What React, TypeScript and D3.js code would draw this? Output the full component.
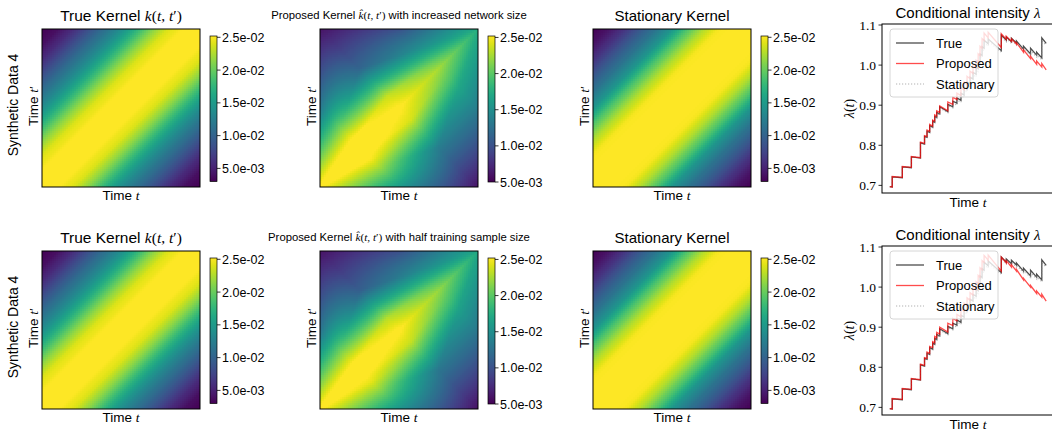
import React, { useEffect, useRef } from 'react';
import * as d3 from 'd3';

const SANS = '"Liberation Sans", Arial, sans-serif';
const SERIF = '"Liberation Serif", "DejaVu Serif", serif';

// kernel value against lag |t - t'|
const lagNodes = [0, 0.1, 0.2, 0.3, 0.4, 0.5, 0.6, 0.7, 0.8, 0.9, 1.0];
const trueKernel = [0.0252, 0.0252, 0.024, 0.021, 0.0172, 0.0138, 0.0111, 0.0085, 0.0058, 0.0038, 0.003];
const stationaryKernel = [0.0252, 0.0252, 0.025, 0.0225, 0.019, 0.0145, 0.0115, 0.009, 0.0063, 0.0041, 0.003];

// proposed kernel (x1e-3) on a grid of midpoint m=(t+t')/2 and side s=(t-t')/max
const midNodes = [0, 0.25, 0.5, 0.75, 1];
const sideNodes = [-1, -0.5, -0.3, -0.15, 0, 0.15, 0.3, 0.5, 1];
const proposedNet = [
  [25.5, 25.5, 25.5, 25.5, 25.5, 25.5, 25.5, 25.5, 25.5],
  [13, 21, 24, 26, 26.5, 26, 25, 22.5, 16],
  [6, 11.5, 18, 23.5, 25.5, 24, 19.5, 13.5, 6],
  [10, 15, 18, 20.5, 22.5, 21, 19.5, 17, 13.5],
  [17.5, 17.5, 17.5, 17.5, 17.5, 17.5, 17.5, 17.5, 17.5],
];
const proposedHalf = [
  [25.5, 25.5, 25.5, 25.5, 25.5, 25.5, 25.5, 25.5, 25.5],
  [12.5, 20.5, 23.5, 25.5, 26.5, 25.5, 24.5, 22, 15.5],
  [6, 11, 17.5, 23, 25.5, 23.5, 19, 13, 5.8],
  [9.8, 14.5, 17.5, 20, 22, 20.5, 19, 16.5, 13],
  [17, 17, 17, 17, 17, 17, 17, 17, 17],
];

const cbarTicks = [0.005, 0.01, 0.015, 0.02, 0.025];
const cbarTickLabels = ['5.0e-03', '1.0e-02', '1.5e-02', '2.0e-02', '2.5e-02'];
const wideRange: [number, number] = [0.003, 0.0252];
const proposedRange: [number, number] = [0.005, 0.0252];
const proposedSuffix = [' with increased network size', ' with half training sample size'];

// conditional intensity: each segment decays from start to end between bounds
const segBounds = [0, 0.155, 0.8, 1.38, 1.96, 2.22, 2.38, 2.55, 2.74, 2.87, 3.0, 3.19, 3.71, 4.03, 4.29, 4.55, 4.75, 4.94, 5.13, 5.32, 5.52, 5.65, 5.77, 5.9, 6.03, 6.29, 7.13, 7.45, 7.78, 8.1, 8.55, 9.0, 9.39, 9.72, 10];
const trueStart = [0.697, 0.721, 0.746, 0.771, 0.806, 0.822, 0.835, 0.849, 0.86, 0.872, 0.882, 0.896, 0.902, 0.91, 0.918, 0.93, 0.945, 0.958, 0.97, 0.982, 0.995, 1.01, 1.028, 1.046, 1.062, 1.065, 1.075, 1.07, 1.067, 1.06, 1.047, 1.042, 1.032, 1.068];
const trueEnd = [0.696, 0.719, 0.744, 0.768, 0.803, 0.82, 0.832, 0.845, 0.857, 0.869, 0.878, 0.884, 0.896, 0.905, 0.912, 0.925, 0.94, 0.953, 0.965, 0.977, 0.991, 1.006, 1.024, 1.042, 1.053, 1.036, 1.062, 1.058, 1.055, 1.04, 1.028, 1.025, 1.018, 1.054];
const statStart = [0.697, 0.722, 0.747, 0.772, 0.806, 0.822, 0.835, 0.848, 0.859, 0.871, 0.88, 0.893, 0.899, 0.906, 0.913, 0.925, 0.939, 0.952, 0.964, 0.976, 0.989, 1.004, 1.022, 1.04, 1.056, 1.06, 1.071, 1.066, 1.063, 1.055, 1.042, 1.037, 1.027, 1.06];
const statEnd = [0.696, 0.72, 0.745, 0.769, 0.803, 0.819, 0.832, 0.844, 0.856, 0.867, 0.876, 0.881, 0.893, 0.9, 0.907, 0.919, 0.933, 0.946, 0.958, 0.97, 0.984, 1.0, 1.018, 1.036, 1.047, 1.032, 1.058, 1.054, 1.05, 1.036, 1.024, 1.02, 1.013, 1.05];
const propNetStart = [0.697, 0.722, 0.747, 0.772, 0.808, 0.824, 0.838, 0.852, 0.863, 0.876, 0.886, 0.898, 0.908, 0.92, 0.93, 0.944, 0.958, 0.972, 0.985, 0.998, 1.012, 1.028, 1.047, 1.066, 1.08, 1.082, 1.078, 1.072, 1.066, 1.056, 1.038, 1.022, 1.01, 1.004];
const propNetEnd = [0.696, 0.72, 0.745, 0.769, 0.805, 0.822, 0.835, 0.848, 0.86, 0.873, 0.882, 0.886, 0.902, 0.914, 0.924, 0.938, 0.952, 0.966, 0.979, 0.992, 1.007, 1.023, 1.042, 1.061, 1.068, 1.044, 1.064, 1.059, 1.052, 1.032, 1.016, 1.002, 0.995, 0.988];
const propHalfStart = [0.697, 0.722, 0.747, 0.772, 0.808, 0.824, 0.838, 0.852, 0.864, 0.877, 0.887, 0.9, 0.91, 0.922, 0.932, 0.946, 0.96, 0.973, 0.986, 0.999, 1.013, 1.029, 1.048, 1.066, 1.079, 1.08, 1.075, 1.066, 1.056, 1.044, 1.022, 1.004, 0.99, 0.982];
const propHalfEnd = [0.696, 0.72, 0.745, 0.769, 0.805, 0.822, 0.835, 0.849, 0.861, 0.874, 0.883, 0.888, 0.904, 0.916, 0.926, 0.94, 0.954, 0.967, 0.98, 0.993, 1.008, 1.024, 1.043, 1.061, 1.067, 1.04, 1.06, 1.05, 1.04, 1.018, 1.0, 0.984, 0.975, 0.965];
const yTicks = [0.7, 0.8, 0.9, 1.0, 1.1];
const legendLabels = ['True', 'Proposed', 'Stationary'];

const rowIntensity = [
  { proposed: [propNetStart, propNetEnd] },
  { proposed: [propHalfStart, propHalfEnd] },
];

// layout
const W = 1052;
const H = 432;
const ROW = 222;
const PANEL_LEFT = [42, 320, 593];
const HM_TOP = 29;
const HM = 158;
const N = 79;
const CB_W = 7;
const CB_TOP = 36;
const CB_BOT = 181.5;
const LX0 = 882;
const LX1 = 1054;
const LY0 = 24;
const LY1 = 193;

type Part = [string, 'sans' | 'ital' | 'rm'];

function mathText(g: any, x: number, y: number, parts: Part[], size: number, rotate = false) {
  const t = g.append('text')
    .attr('text-anchor', 'middle')
    .attr('font-size', size)
    .attr('fill', '#000');
  if (rotate) t.attr('transform', `translate(${x},${y}) rotate(-90)`).attr('dy', '0.35em');
  else t.attr('x', x).attr('y', y);
  parts.forEach(([s, kind]) => {
    t.append('tspan')
      .attr('font-family', kind === 'sans' ? SANS : SERIF)
      .attr('font-style', kind === 'ital' ? 'italic' : 'normal')
      .text(s);
  });
  return t;
}

const lagValue = (profile: number[]) => {
  const sc = d3.scaleLinear().domain(lagNodes).range(profile).clamp(true);
  return (t: number, tp: number) => sc(Math.abs(t - tp));
};

const gridValue = (grid: number[][]) => {
  const sideScales = grid.map((row) => d3.scaleLinear().domain(sideNodes).range(row).clamp(true));
  return (t: number, tp: number) => {
    const m = (t + tp) / 2;
    const dmax = 2 * Math.min(m, 1 - m);
    const s = dmax > 1e-9 ? (t - tp) / dmax : 0;
    const vals = sideScales.map((sc) => sc(s));
    return d3.scaleLinear().domain(midNodes).range(vals)(m) * 1e-3;
  };
};

const App = () => {
  const ref = useRef<SVGSVGElement>(null);

  useEffect(() => {
    const svg = d3.select(ref.current);
    svg.selectAll('*').remove();
    const defs = svg.append('defs');

    [0, 1].forEach((r) => {
      const oy = r * ROW;
      const kernels = [
        { value: lagValue(trueKernel), range: wideRange },
        { value: gridValue(r === 0 ? proposedNet : proposedHalf), range: proposedRange },
        { value: lagValue(stationaryKernel), range: wideRange },
      ];

      kernels.forEach((k, p) => {
        const left = PANEL_LEFT[p];
        const color = d3.scaleSequential(d3.interpolateViridis).domain(k.range).clamp(true);
        const x = d3.scaleLinear().domain([0, 1]).range([left, left + HM]);
        const y = d3.scaleLinear().domain([0, 1]).range([oy + HM_TOP + HM, oy + HM_TOP]);
        const cells = d3.range(N * N).map((c) => ({ i: c % N, j: Math.floor(c / N) }));
        const g = svg.append('g').attr('shape-rendering', 'crispEdges');
        g.selectAll('rect')
          .data(cells)
          .join('rect')
          .attr('x', (d) => x(d.i / N))
          .attr('y', (d) => y((d.j + 1) / N))
          .attr('width', HM / N + 0.4)
          .attr('height', HM / N + 0.4)
          .attr('fill', (d) => color(k.value((d.i + 0.5) / N, (d.j + 0.5) / N)));
        svg.append('rect')
          .attr('x', left).attr('y', oy + HM_TOP)
          .attr('width', HM).attr('height', HM)
          .attr('fill', 'none').attr('stroke', '#000').attr('stroke-width', 1);

        // colorbar
        const cbx = left + HM + 10;
        const cbBot = p === 1 ? CB_BOT + 0.5 : CB_BOT;
        const cy = d3.scaleLinear().domain(k.range).range([oy + cbBot, oy + CB_TOP]);
        const gid = `cb-${r}-${p}`;
        const grad = defs.append('linearGradient').attr('id', gid)
          .attr('x1', 0).attr('y1', 1).attr('x2', 0).attr('y2', 0);
        d3.range(0, 1.0001, 0.05).forEach((o) => {
          grad.append('stop').attr('offset', o)
            .attr('stop-color', color(k.range[0] + o * (k.range[1] - k.range[0])));
        });
        svg.append('rect')
          .attr('x', cbx).attr('y', oy + CB_TOP)
          .attr('width', CB_W).attr('height', cbBot - CB_TOP)
          .attr('fill', `url(#${gid})`).attr('stroke', '#000').attr('stroke-width', 0.7);
        cbarTicks.forEach((v, i) => {
          svg.append('line')
            .attr('x1', cbx + CB_W).attr('x2', cbx + CB_W + 3.5)
            .attr('y1', cy(v)).attr('y2', cy(v))
            .attr('stroke', '#000').attr('stroke-width', 0.8);
          svg.append('text')
            .attr('x', cbx + CB_W + 5).attr('y', cy(v)).attr('dy', '0.36em')
            .attr('font-family', SANS).attr('font-size', 12.5)
            .text(cbarTickLabels[i]);
        });

        // titles and labels
        const cx = left + HM / 2;
        if (p === 0) {
          mathText(svg, cx, oy + 21, [['True Kernel ', 'sans'], ['k', 'ital'], ['(', 'rm'], ['t', 'ital'], [', ', 'rm'], ['t', 'ital'], ['′', 'rm'], [')', 'rm']], 15.5);
        } else if (p === 1) {
          mathText(svg, cx, oy + 19, [['Proposed Kernel ', 'sans'], ['k\u0302', 'ital'], ['(', 'rm'], ['t', 'ital'], [', ', 'rm'], ['t', 'ital'], ['′', 'rm'], [')', 'rm'], [proposedSuffix[r], 'sans']], 11.3);
        } else {
          mathText(svg, cx, oy + 21, [['Stationary Kernel', 'sans']], 15);
        }
        mathText(svg, cx, oy + 200, [['Time ', 'sans'], ['t', 'ital']], 13.5);
        mathText(svg, left - 8.5, oy + HM_TOP + HM / 2 - 2, [['Time ', 'sans'], ['t', 'ital'], ['′', 'rm']], 13.5, true);
        if (p === 0) {
          mathText(svg, 13, oy + HM_TOP + HM / 2 - 3, [['Synthetic Data 4', 'sans']], 14, true);
        }
      });

      // conditional intensity panel
      const lx = d3.scaleLinear().domain([-0.5, 10.5]).range([LX0, LX1]);
      const ly = d3.scaleLinear().domain([0.681, 1.1025]).range([oy + LY1, oy + LY0]);
      const clipId = `clip-${r}`;
      defs.append('clipPath').attr('id', clipId).append('rect')
        .attr('x', LX0).attr('y', oy + LY0).attr('width', LX1 - LX0).attr('height', LY1 - LY0);
      const toPoints = (st: number[], en: number[]) => {
        const pts: [number, number][] = [];
        st.forEach((v, k) => {
          pts.push([segBounds[k], v], [segBounds[k + 1], en[k]]);
        });
        return pts;
      };
      const line = d3.line<[number, number]>().x((d) => lx(d[0])).y((d) => ly(d[1]));
      const lg = svg.append('g').attr('clip-path', `url(#${clipId})`).attr('fill', 'none');
      lg.append('path').attr('d', line(toPoints(trueStart, trueEnd)))
        .attr('stroke', '#000').attr('stroke-opacity', 0.7).attr('stroke-width', 1.3);
      lg.append('path').attr('d', line(toPoints(statStart, statEnd)))
        .attr('stroke', '#808080').attr('stroke-opacity', 0.6).attr('stroke-width', 1.1)
        .attr('stroke-dasharray', '1.2,1.8');
      const [ps, pe] = rowIntensity[r].proposed;
      lg.append('path').attr('d', line(toPoints(ps, pe)))
        .attr('stroke', 'red').attr('stroke-opacity', 0.7).attr('stroke-width', 1.3);

      svg.append('rect')
        .attr('x', LX0).attr('y', oy + LY0).attr('width', LX1 - LX0).attr('height', LY1 - LY0)
        .attr('fill', 'none').attr('stroke', '#000').attr('stroke-width', 1);
      yTicks.forEach((v) => {
        svg.append('line').attr('x1', LX0 - 3.5).attr('x2', LX0)
          .attr('y1', ly(v)).attr('y2', ly(v)).attr('stroke', '#000').attr('stroke-width', 0.8);
        svg.append('text').attr('x', LX0 - 6).attr('y', ly(v)).attr('dy', '0.35em')
          .attr('text-anchor', 'end').attr('font-family', SERIF).attr('font-size', 13.5)
          .text(d3.format('.1f')(v));
      });

      // legend
      const leg = svg.append('g');
      leg.append('rect').attr('x', 890).attr('y', oy + 29).attr('width', 108).attr('height', 68)
        .attr('rx', 3).attr('fill', '#fff').attr('fill-opacity', 0.8)
        .attr('stroke', '#cccccc').attr('stroke-width', 0.8);
      const styles = [
        { c: '#000', o: 0.7, dash: null as string | null },
        { c: 'red', o: 0.7, dash: null },
        { c: '#808080', o: 0.6, dash: '1.2,1.8' },
      ];
      legendLabels.forEach((label, i) => {
        const yy = oy + 43 + i * 20.5;
        const l = leg.append('line').attr('x1', 896).attr('x2', 924).attr('y1', yy).attr('y2', yy)
          .attr('stroke', styles[i].c).attr('stroke-opacity', styles[i].o).attr('stroke-width', 1.3);
        if (styles[i].dash) l.attr('stroke-dasharray', styles[i].dash).attr('stroke-width', 1.1);
        leg.append('text').attr('x', 936).attr('y', yy).attr('dy', '0.36em')
          .attr('font-family', SANS).attr('font-size', 13).text(label);
      });

      const lcx = (LX0 + LX1) / 2;
      mathText(svg, lcx, oy + 17.5, [['Conditional intensity ', 'sans'], ['λ', 'ital']], 15);
      mathText(svg, lcx, oy + 207, [['Time ', 'sans'], ['t', 'ital']], 13.5);
      mathText(svg, 849, oy + (LY0 + LY1) / 2, [['λ', 'ital'], ['(', 'rm'], ['t', 'ital'], [')', 'rm']], 14, true);
    });
  }, []);

  return (
    <svg
      ref={ref}
      width={W}
      height={H}
      style={{ position: 'absolute', left: 0, top: 0, background: '#fff' }}
    />
  );
};

export default App;
